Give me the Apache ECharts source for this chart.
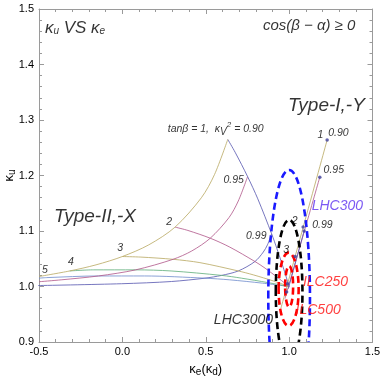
<!DOCTYPE html>
<html>
<head>
<meta charset="utf-8">
<script src="https://cdn.jsdelivr.net/npm/echarts@6/dist/echarts.min.js"></script>
<style>
  html, body { margin: 0; padding: 0; background: #fff; }
  #chart { width: 382px; height: 382px; }
</style>
</head>
<body>
<div id="chart"></div>
<script>
// ---- Type-II,-X : curves of constant kV^2 (tanb varies)
var kv090 = [[-0.5, 1.018], [-0.316, 1.028], [-0.158, 1.039], [0.0, 1.054], [0.158, 1.075], [0.316, 1.107], [0.474, 1.160], [0.553, 1.202], [0.632, 1.265]];
var kv095 = [[-0.5, 1.0086], [-0.367, 1.012], [-0.143, 1.019], [0.080, 1.030], [0.304, 1.049], [0.416, 1.064], [0.527, 1.087], [0.639, 1.124], [0.695, 1.154], [0.751, 1.198]];
var kv099 = [[-0.505, 1.0017], [-0.005, 1.005], [0.295, 1.009], [0.495, 1.015], [0.595, 1.020], [0.695, 1.028], [0.795, 1.045], [0.845, 1.062], [0.870, 1.075], [0.895, 1.095]];
// ---- Type-II,-X : curves of constant tanb (kV^2 from 0.90 to 1)
var tb1 = [[0.632, 1.265], [0.676, 1.242], [0.751, 1.198], [0.812, 1.158], [0.895, 1.095], [0.927, 1.068], [0.968, 1.031], [1.0, 1.0]];
var tb2 = [[0.316, 1.107], [0.393, 1.101], [0.527, 1.087], [0.644, 1.071], [0.795, 1.045], [0.856, 1.033], [0.936, 1.015], [1.0, 1.0]];
var tb3 = [[0.0, 1.054], [0.111, 1.053], [0.304, 1.049], [0.465, 1.043], [0.695, 1.028], [0.785, 1.021], [0.905, 1.010], [1.0, 1.0]];
var tb4 = [[-0.316, 1.028], [-0.172, 1.030], [0.080, 1.030], [0.292, 1.028], [0.595, 1.020], [0.715, 1.015], [0.873, 1.007], [1.0, 1.0]];
var tb5 = [[-0.5, 1.015], [-0.455, 1.016], [-0.143, 1.019], [0.133, 1.019], [0.495, 1.015], [0.644, 1.012], [0.841, 1.006], [1.0, 1.0]];
// ---- Type-I,-Y lines and their end points
var ty090 = [[0.95, 0.96], [1.228, 1.264]];
var ty095 = [[0.975, 0.978], [1.184, 1.197]];
var ty099 = [[0.995, 0.996], [1.09, 1.10]];
var tyDots = [[1.228, 1.264], [1.184, 1.197], [1.09, 1.10], [1.084, 1.107], [1.036, 1.054], [0.99, 1.005], [0.985, 0.99]];
// ---- projected precision ellipses: [cx, cy, rx, ry]
var lhc300 = [[1.0, 0.98, 0.125, 0.23]];
var lhc3000 = [[1.0, 0.99, 0.08, 0.13]];
var ilc250 = [[0.997, 0.995, 0.06, 0.066]];
var ilc500 = [[1.0, 1.0, 0.024, 0.037]];
// ---- axis ticks
var xTicks = [-0.5, 0.0, 0.5, 1.0, 1.5];
var yTicks = [0.9, 1.0, 1.1, 1.2, 1.3, 1.4, 1.5];
// ---- text labels: [x, y, text]
var numLabels = [
  [0.5595, 1.284, 'tan\u03b2 = 1,  \u03ba{sub|V}{sup|2} = 0.90'],
  [0.667, 1.192, '0.95'], [0.281, 1.116, '2'], [-0.0135, 1.069, '3'],
  [-0.308, 1.044, '4'], [-0.464, 1.030, '5'], [0.803, 1.090, '0.99'],
  [1.033, 1.117, '2'], [1.2, 1.111, '0.99'], [0.983, 1.066, '3'],
  [1.188, 1.273, '1'], [1.296, 1.277, '0.90'], [1.268, 1.21, '0.95']
];
var typeLabels = [[1.224, 1.325, 'Type-I,-Y'], [-0.164, 1.125, 'Type-II,-X']];
var headLabels = [[-0.284, 1.466, '\u03ba{sub|u} VS \u03ba{sub|e}'], [1.12, 1.469, 'cos(\u03b2 \u2212 \u03b1) \u2265 0']];
var lhcLabels = [[1.289, 1.145, 'LHC300', '#5b2ff0'], [0.726, 0.939, 'LHC3000', '#000'],
                 [1.218, 1.008, 'ILC250', '#ff1010'], [1.174, 0.958, 'ILC500', '#ff1010']];

var BLUE = '#5757b0', MAG = '#b0578a', OLIVE = '#b8a862', GREEN = '#5fae7b', LBLUE = '#6f8ccc';
var FONT = 'Liberation Sans';

function curve(data, color) {
  return {
    type: 'line', data: data, smooth: 0.3, showSymbol: false, silent: true,
    lineStyle: { color: color, width: 0.9, opacity: 0.9 }, z: 2
  };
}

function renderEllipse(params, api) {
  var c = api.coord([api.value(0), api.value(1)]);
  var s = api.size([api.value(2), api.value(3)]);
  return {
    type: 'ellipse',
    shape: { cx: c[0], cy: c[1], rx: s[0], ry: s[1] },
    style: { fill: 'none', stroke: api.visual('color'), lineWidth: 2.6, lineDash: [7, 4] },
    clipPath: {
      type: 'rect',
      shape: { x: params.coordSys.x, y: params.coordSys.y, width: params.coordSys.width, height: params.coordSys.height }
    }
  };
}

function ellipse(data, color) {
  return {
    type: 'custom', data: data, renderItem: renderEllipse, silent: true, clip: true,
    encode: { x: 0, y: 1 }, itemStyle: { color: color }, z: 3
  };
}

var rich = {
  sub: { fontSize: 10, verticalAlign: 'bottom', padding: [7, 0, 0, 0], fontStyle: 'italic', fontFamily: FONT },
  sup: { fontSize: 8, verticalAlign: 'top', padding: [0, 0, 6, 0], fontStyle: 'italic', fontFamily: FONT }
};

function textLayer(rows, size, color) {
  return {
    type: 'scatter', symbolSize: 0, silent: true, z: 5,
    data: rows.map(function (r) { return { value: [r[0], r[1]], name: r[2] }; }),
    label: {
      show: true, position: 'inside', formatter: '{b}', color: color,
      fontSize: size, fontStyle: 'italic', fontFamily: FONT, rich: rich
    }
  };
}

var chart = echarts.init(document.getElementById('chart'));

var series = [
  curve(kv099, BLUE), curve(tb5, LBLUE), curve(tb4, GREEN), curve(tb3, OLIVE),
  curve(tb2, MAG), curve(kv095, MAG), curve(tb1, BLUE), curve(kv090, OLIVE),
  curve(ty090, OLIVE), curve(ty095, MAG), curve(ty099, BLUE),
  {
    type: 'scatter', data: tyDots, symbolSize: 3.5, silent: true, z: 4,
    itemStyle: { color: '#3d3d99' }
  },
  ellipse(lhc300, '#1a1aff'), ellipse(lhc3000, '#000'), ellipse(ilc250, '#ff0000'), ellipse(ilc500, '#ff0000'),
  textLayer(numLabels, 10.5, '#000'),
  textLayer(typeLabels, 19, '#000'),
  textLayer(headLabels.slice(0, 1), 17, '#000'),
  textLayer(headLabels.slice(1), 15, '#000')
];
lhcLabels.forEach(function (r) { series.push(textLayer([r], 14, r[3])); });

var axisFrame = { show: true, onZero: false, lineStyle: { color: '#9a9a9a', width: 1 } };
var tickStyle = { inside: true, length: 5, lineStyle: { color: '#9a9a9a' } };
var minorStyle = { show: true, splitNumber: 5, length: 3, lineStyle: { color: '#9a9a9a' } };
var nameRich = { sub: { fontSize: 10, verticalAlign: 'bottom', padding: [6, 0, 0, 0] } };
function fmt(v) { return v.toFixed(1); }

chart.setOption({
  animation: false,
  backgroundColor: '#fff',
  grid: { left: 39, right: 9.5, top: 9, bottom: 40, outerBoundsMode: 'none', containLabel: false },
  xAxis: [{
    type: 'value', min: xTicks[0], max: xTicks[xTicks.length - 1], interval: 0.5,
    axisLine: axisFrame, splitLine: { show: false }, axisTick: tickStyle, minorTick: minorStyle,
    axisLabel: { margin: 4, fontSize: 11, color: '#000', fontFamily: FONT, formatter: fmt },
    name: '\u03ba{sub|e}(\u03ba{sub|d})', nameLocation: 'middle', nameGap: 19, nameMoveOverlap: false,
    nameTextStyle: { fontSize: 13, color: '#000', fontFamily: FONT, rich: nameRich }
  }, {
    type: 'value', position: 'top', min: xTicks[0], max: xTicks[xTicks.length - 1], interval: 0.5,
    axisLine: axisFrame, splitLine: { show: false }, axisLabel: { show: false },
    axisTick: tickStyle, minorTick: minorStyle
  }],
  yAxis: [{
    type: 'value', min: yTicks[0], max: yTicks[yTicks.length - 1], interval: 0.1,
    axisLine: axisFrame, splitLine: { show: false }, axisTick: tickStyle, minorTick: minorStyle,
    axisLabel: { margin: 5, fontSize: 11, color: '#000', fontFamily: FONT, formatter: fmt },
    name: '\u03ba{sub|u}', nameLocation: 'middle', nameGap: 22, nameRotate: 90, nameMoveOverlap: false,
    nameTextStyle: { fontSize: 13, color: '#000', fontFamily: FONT, rich: nameRich }
  }, {
    type: 'value', position: 'right', min: yTicks[0], max: yTicks[yTicks.length - 1], interval: 0.1,
    axisLine: axisFrame, splitLine: { show: false }, axisLabel: { show: false },
    axisTick: tickStyle, minorTick: minorStyle
  }],
  series: series
});
</script>
</body>
</html>
